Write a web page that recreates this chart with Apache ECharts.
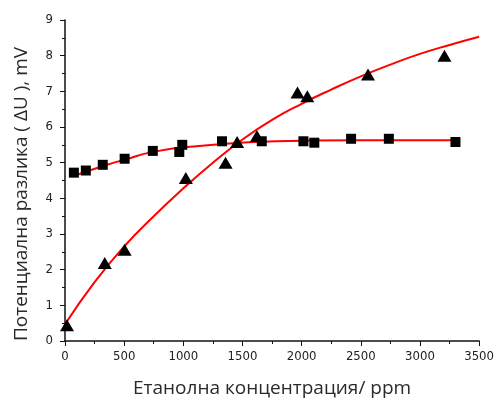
<!DOCTYPE html>
<html>
<head>
<meta charset="utf-8">
<script src="https://cdn.jsdelivr.net/npm/echarts@6/dist/echarts.min.js"></script>
<style>
  html, body { margin: 0; padding: 0; background: #fff; }
  #chart { width: 497px; height: 403px; }
</style>
</head>
<body>
<div id="chart"></div>
<script>
// Measured points: ethanol concentration (ppm) vs. potential difference (mV)
const squareX = [75, 176, 319, 504, 742, 966, 991, 1327, 1663, 2015, 2107, 2418, 2737, 3300];
const squareY = [4.72, 4.78, 4.94, 5.11, 5.33, 5.30, 5.50, 5.60, 5.60, 5.60, 5.56, 5.67, 5.67, 5.58];

const triangleX = [17, 336, 504, 1021, 1357, 1455, 1622, 1965, 2048, 2561, 3207];
const triangleY = [0.44, 2.19, 2.56, 4.57, 5.00, 5.58, 5.75, 6.97, 6.86, 7.47, 8.00];

// Fitted curves, sampled along each fit line
const squareFitX = [84, 336, 500, 756, 1134, 1553, 2057, 2500, 3300];
const squareFitY = [4.64, 4.92, 5.08, 5.31, 5.47, 5.57, 5.62, 5.63, 5.63];

const triangleFitX = [0, 250, 500, 750, 1000, 1250, 1500, 1750, 2000, 2250, 2500, 2750, 3000, 3250, 3500];
const triangleFitY = [0.47, 1.65, 2.65, 3.5, 4.28, 5.0, 5.65, 6.2, 6.65, 7.05, 7.42, 7.75, 8.05, 8.3, 8.53];

const xTitle = 'Етанолна концентрация/ ppm';
const yTitle = 'Потенциална разлика ( ΔU ), mV';

const zip = (xs, ys) => xs.map((x, i) => [x, ys[i]]);

const tickFont = {
  fontFamily: 'DejaVu Sans Condensed, Liberation Sans Narrow, Liberation Sans',
  fontSize: 13, color: '#222',
  formatter: v => String(v)
};
const titleFont = 'Open Sans, Noto Sans, sans-serif';
const axisLine = { show: true, onZero: false, lineStyle: { color: '#111', width: 1.5 } };
const majorTick = { show: true, inside: false, length: 5, lineStyle: { color: '#111', width: 1 } };
const minorTick = { show: true, splitNumber: 2, length: 3, lineStyle: { color: '#111', width: 1 } };

const chart = echarts.init(document.getElementById('chart'), null, { renderer: 'canvas' });
chart.setOption({
  backgroundColor: '#fff',
  animation: false,
  grid: { left: 65, right: 15, top: 20, bottom: 59 },
  xAxis: {
    type: 'value', min: 0, max: 3500, interval: 500,
    name: xTitle, nameLocation: 'middle', nameGap: 38,
    nameTextStyle: { fontFamily: titleFont, fontSize: 19, color: '#2a2a2a' },
    axisLine: axisLine, axisTick: majorTick, minorTick: minorTick,
    axisLabel: Object.assign({ margin: 9 }, tickFont),
    splitLine: { show: false }
  },
  yAxis: {
    type: 'value', min: 0, max: 9, interval: 1,
    axisLine: axisLine, axisTick: majorTick, minorTick: minorTick,
    axisLabel: Object.assign({ margin: 12 }, tickFont),
    splitLine: { show: false }
  },
  graphic: [{
    type: 'text',
    x: 22, y: 194,
    rotation: Math.PI / 2,
    style: {
      text: yTitle,
      fontFamily: titleFont, fontSize: 19, fill: '#2a2a2a',
      align: 'center', verticalAlign: 'middle'
    }
  }],
  series: [
    {
      type: 'line', data: zip(squareFitX, squareFitY), smooth: 0.5,
      showSymbol: false, lineStyle: { color: '#ff0000', width: 2 }, z: 2
    },
    {
      type: 'line', data: zip(triangleFitX, triangleFitY), smooth: 0.5,
      showSymbol: false, lineStyle: { color: '#ff0000', width: 2 }, z: 2
    },
    {
      type: 'scatter', data: zip(squareX, squareY), symbol: 'rect', symbolSize: 10,
      itemStyle: { color: '#000', opacity: 1 }, z: 3
    },
    {
      type: 'scatter', data: zip(triangleX, triangleY), symbol: 'triangle', symbolSize: [14, 12],
      itemStyle: { color: '#000', opacity: 1 }, z: 3
    }
  ]
});
</script>
</body>
</html>
